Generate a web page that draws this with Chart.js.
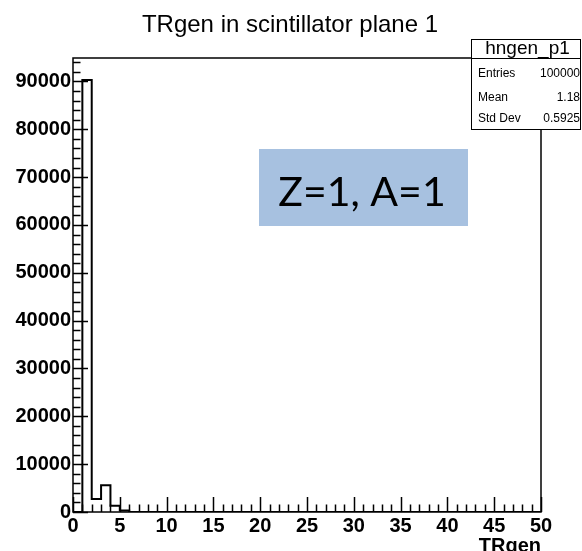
<!DOCTYPE html>
<html>
<head>
<meta charset="utf-8">
<script src="https://cdn.jsdelivr.net/npm/chart.js@4/dist/chart.umd.min.js"></script>
<style>
  html, body { margin: 0; padding: 0; background: #ffffff; }
  #wrap { position: relative; width: 582px; height: 551px; }
</style>
</head>
<body>
<div id="wrap"><canvas id="c" width="582" height="551"></canvas></div>
<script>
// Histogram of TRgen: 50 bins of width 1 from 0 to 50
const binEdges = [0, 1, 2, 3, 4, 5, 6, 7, 8, 9, 10, 11, 12, 13, 14, 15, 16, 17, 18, 19, 20,
  21, 22, 23, 24, 25, 26, 27, 28, 29, 30, 31, 32, 33, 34, 35, 36, 37, 38, 39, 40,
  41, 42, 43, 44, 45, 46, 47, 48, 49, 50];
const binCounts = [0, 90300, 2700, 5600, 1300, 300, 0, 0, 0, 0,
  0, 0, 0, 0, 0, 0, 0, 0, 0, 0,
  0, 0, 0, 0, 0, 0, 0, 0, 0, 0,
  0, 0, 0, 0, 0, 0, 0, 0, 0, 0,
  0, 0, 0, 0, 0, 0, 0, 0, 0, 0];

const xTickValues = [0, 5, 10, 15, 20, 25, 30, 35, 40, 45, 50];
const yTickValues = [0, 10000, 20000, 30000, 40000, 50000, 60000, 70000, 80000, 90000];
const yMax = 94900;

const histTitle = 'TRgen in scintillator plane 1';
const xAxisTitle = 'TRgen';
const statsName = 'hngen_p1';
const statsRows = [['Entries', '100000'], ['Mean', '1.18'], ['Std Dev', '0.5925']];
const noteText = 'Z=1, A=1';

const FONT = '"Liberation Sans", Arial, Helvetica, sans-serif';

// Step outline: each point sits at a bin's lower edge and carries that bin's content;
// 'before' stepping holds it level until the next edge
const stepPoints = binEdges.map((x, i) => ({ x: x, y: i < binCounts.length ? binCounts[i] : 0 }));

// Frame, inward tick marks (major + minor), title, stats box and note
const decorations = {
  id: 'decorations',
  afterDatasetsDraw(chart) {
    const { ctx, chartArea: a, scales } = chart;
    const xs = scales.x, ys = scales.y;
    ctx.save();
    ctx.strokeStyle = '#000';
    ctx.lineWidth = 1.5;
    // x ticks: minor every 1, major every 5
    ctx.beginPath();
    for (let v = xs.min; v <= xs.max; v += 1) {
      const px = Math.round(xs.getPixelForValue(v)) + 0.5;
      const len = (v % 5 === 0) ? 15 : 7.5;
      ctx.moveTo(px, a.bottom);
      ctx.lineTo(px, a.bottom - len);
    }
    // y ticks: minor every 2000, major every 10000
    for (let v = 0; v <= ys.max; v += 2000) {
      const py = Math.round(ys.getPixelForValue(v)) + 0.5;
      const len = (v % 10000 === 0) ? 15 : 7.5;
      ctx.moveTo(a.left, py);
      ctx.lineTo(a.left + len, py);
    }
    ctx.stroke();
    ctx.lineWidth = 1.5;
    ctx.strokeRect(a.left, a.top, a.right - a.left, a.bottom - a.top);
    ctx.restore();
  },
  afterDraw(chart) {
    const { ctx, chartArea: a } = chart;
    ctx.save();
    // title
    ctx.fillStyle = '#000';
    ctx.font = '24px ' + FONT;
    ctx.textAlign = 'center';
    ctx.textBaseline = 'alphabetic';
    ctx.fillText(histTitle, 290, 32);

    // x axis title
    ctx.font = 'bold 20px ' + FONT;
    ctx.textAlign = 'right';
    ctx.fillText(xAxisTitle, a.right, 552);

    // stats box
    const bx = 471.5, by = 39.5, bw = 109, bh = 90;
    ctx.fillStyle = '#fff';
    ctx.fillRect(bx, by, bw, bh);
    ctx.strokeStyle = '#000';
    ctx.lineWidth = 1;
    ctx.strokeRect(bx, by, bw, bh);
    ctx.beginPath();
    ctx.moveTo(bx, a.top + 0.5);
    ctx.lineTo(bx + bw, a.top + 0.5);
    ctx.stroke();
    ctx.fillStyle = '#000';
    ctx.font = '19px ' + FONT;
    ctx.textAlign = 'center';
    ctx.fillText(statsName, 527.5, 54);
    ctx.font = '12px ' + FONT;
    const rowY = [77, 101, 122];
    statsRows.forEach((r, i) => {
      ctx.textAlign = 'left';
      ctx.fillText(r[0], 478, rowY[i]);
      ctx.textAlign = 'right';
      ctx.fillText(r[1], 580, rowY[i]);
    });

    // note box
    ctx.fillStyle = '#a7c1e0';
    ctx.fillRect(259, 149, 209, 77);
    ctx.fillStyle = '#000';
    ctx.font = '41px Lato, "Open Sans", sans-serif';
    ctx.textAlign = 'center';
    ctx.fillText(noteText, 362, 206);
    ctx.restore();
  }
};

new Chart(document.getElementById('c'), {
  type: 'line',
  data: {
    datasets: [{
      data: stepPoints,
      stepped: 'before',
      borderColor: '#000',
      borderWidth: 2,
      pointRadius: 0,
      fill: false
    }]
  },
  options: {
    responsive: false,
    animation: false,
    layout: { padding: { top: 58, right: 41, left: 0, bottom: 0 } },
    plugins: { legend: { display: false }, tooltip: { enabled: false }, title: { display: false } },
    scales: {
      x: {
        type: 'linear',
        min: 0,
        max: 50,
        grid: { display: false, drawTicks: false },
        border: { display: false },
        afterBuildTicks: s => { s.ticks = xTickValues.map(v => ({ value: v })); },
        afterFit: s => { s.height = 39; },
        ticks: {
          autoSkip: false,
          maxRotation: 0,
          padding: 2,
          color: '#000',
          font: { family: FONT, size: 20, weight: 'bold' },
          callback: v => String(v)
        }
      },
      y: {
        type: 'linear',
        min: 0,
        max: yMax,
        grid: { display: false, drawTicks: false },
        border: { display: false },
        afterBuildTicks: s => { s.ticks = yTickValues.map(v => ({ value: v })); },
        afterFit: s => { s.width = 73; },
        ticks: {
          autoSkip: false,
          padding: 2,
          color: '#000',
          font: { family: FONT, size: 20, weight: 'bold' },
          callback: v => String(v)
        }
      }
    }
  },
  plugins: [decorations]
});
</script>
</body>
</html>
